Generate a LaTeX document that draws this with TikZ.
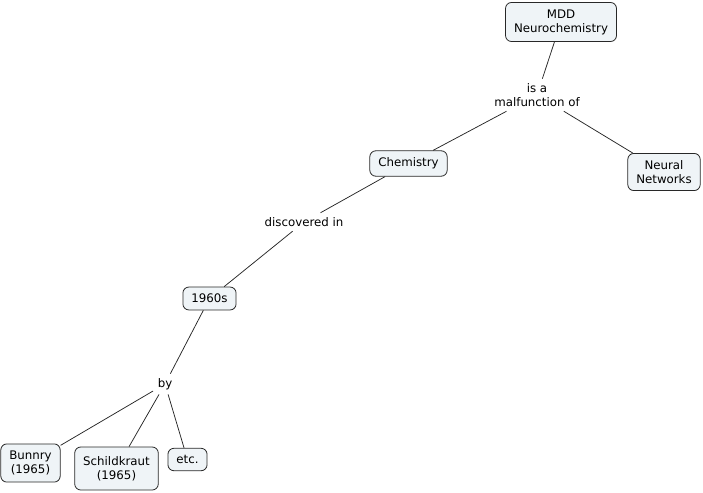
\documentclass[tikz,border=0pt]{standalone}
\usepackage{fontspec}
\setmainfont{DejaVu Sans}
\definecolor{conceptfill}{RGB}{239,244,247}
\definecolor{conceptline}{RGB}{40,40,40}

\begin{document}
\begin{tikzpicture}[
  x=1pt, y=-1pt,
  font=\fontsize{11.8}{14}\selectfont,
  concept/.style={draw=conceptline, fill=conceptfill, rounded corners=6pt,
                  align=center, inner xsep=8.5pt, inner ysep=7pt, line width=0.8pt},
  linkword/.style={align=center, inner sep=4.5pt, fill=white},
  conn/.style={line width=0.75pt, draw=black!85}
]
\useasboundingbox (0,0) rectangle (703,492);

% ---------------- concepts ----------------
\node[concept] (mdd) at (561, 22) {MDD\\Neurochemistry};
\node[concept] (chem) at (408.5, 163.5) {Chemistry};
\node[concept] (neural) at (664, 172) {Neural\\Networks};
\node[concept] (sixties) at (209.5, 298.5) {1960s};
\node[concept] (bunnry) at (30.5, 463) {Bunnry\\(1965)};
\node[concept, minimum height=43pt, minimum width=83pt] (schild) at (116.5, 468.5) {Schildkraut\\(1965)};
\node[concept] (etc) at (187.5, 459.5) {etc.};

% ---------------- linking phrases ----------------
\node[linkword] (malf) at (537, 95) {is a\\malfunction of};
\node[linkword] (disc) at (304, 222) {discovered in};
\node[linkword] (by) at (165, 384) {by};

% ---------------- connectors ----------------
\draw[conn] (mdd) -- (malf);
\draw[conn] (malf) -- (chem);
\draw[conn] (malf) -- (neural);
\draw[conn] (chem) -- (disc);
\draw[conn] (disc) -- (sixties);
\draw[conn] (sixties) -- (by);
\draw[conn] (by) -- (bunnry);
\draw[conn] (by) -- (schild);
\draw[conn] (by) -- (etc);

\end{tikzpicture}
\end{document}
